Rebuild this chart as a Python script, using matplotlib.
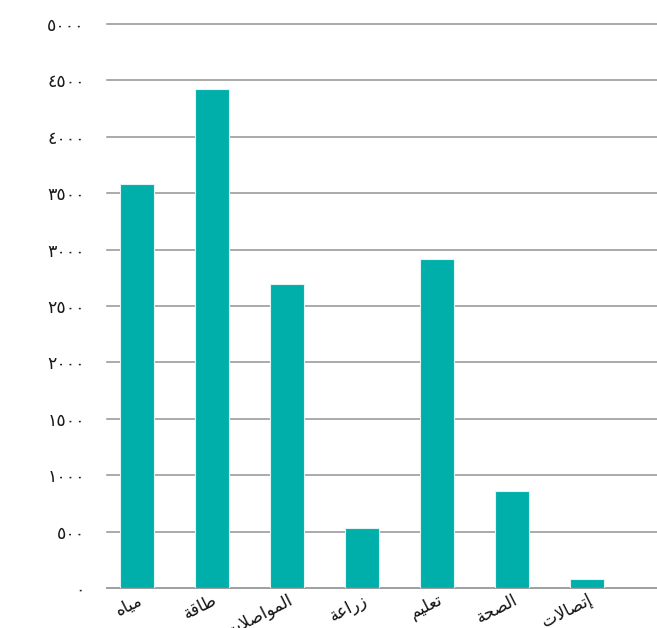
import matplotlib
matplotlib.use("Agg")
import matplotlib.pyplot as plt

# ---- data ----
categories = ["مياه", "طاقة", "المواصلات", "زراعة", "تعليم", "الصحة", "إتصالات"]
values = [3580, 4420, 2695, 530, 2915, 860, 80]
yticks = [0, 500, 1000, 1500, 2000, 2500, 3000, 3500, 4000, 4500, 5000]

# ---- minimal Arabic shaping (matplotlib has no complex text layout) ----
FORMS = {  # isolated, final, initial, medial
    'ا': ('\uFE8D', '\uFE8E', None, None),
    'إ': ('\uFE87', '\uFE88', None, None),
    'ب': ('\uFE8F', '\uFE90', '\uFE91', '\uFE92'),
    'ة': ('\uFE93', '\uFE94', None, None),
    'ت': ('\uFE95', '\uFE96', '\uFE97', '\uFE98'),
    'ح': ('\uFEA1', '\uFEA2', '\uFEA3', '\uFEA4'),
    'ر': ('\uFEAD', '\uFEAE', None, None),
    'ز': ('\uFEAF', '\uFEB0', None, None),
    'ص': ('\uFEB9', '\uFEBA', '\uFEBB', '\uFEBC'),
    'ط': ('\uFEC1', '\uFEC2', '\uFEC3', '\uFEC4'),
    'ع': ('\uFEC9', '\uFECA', '\uFECB', '\uFECC'),
    'ق': ('\uFED5', '\uFED6', '\uFED7', '\uFED8'),
    'ل': ('\uFEDD', '\uFEDE', '\uFEDF', '\uFEE0'),
    'م': ('\uFEE1', '\uFEE2', '\uFEE3', '\uFEE4'),
    'ه': ('\uFEE9', '\uFEEA', '\uFEEB', '\uFEEC'),
    'و': ('\uFEED', '\uFEEE', None, None),
    'ي': ('\uFEF1', '\uFEF2', '\uFEF3', '\uFEF4'),
}
LAM_ALEF = {'ا': ('\uFEFB', '\uFEFC'), 'إ': ('\uFEF9', '\uFEFA')}


def dual(c):
    return c in FORMS and FORMS[c][2] is not None


def shape(word):
    toks = []
    i = 0
    while i < len(word):
        c = word[i]
        if c == 'ل' and i + 1 < len(word) and word[i + 1] in LAM_ALEF:
            toks.append(('LA', word[i + 1]))
            i += 2
        else:
            toks.append((c, None))
            i += 1
    out = []
    for k, (c, extra) in enumerate(toks):
        prev = toks[k - 1] if k > 0 else None
        nxt = toks[k + 1] if k + 1 < len(toks) else None
        prev_joins = prev is not None and prev[0] != 'LA' and dual(prev[0])
        if c == 'LA':
            out.append(LAM_ALEF[extra][1 if prev_joins else 0])
            continue
        if c not in FORMS:
            out.append(c)
            continue
        next_joins = dual(c) and nxt is not None and (nxt[0] == 'LA' or nxt[0] in FORMS)
        iso, fin, ini, med = FORMS[c]
        if prev_joins and next_joins:
            out.append(med)
        elif prev_joins:
            out.append(fin)
        elif next_joins:
            out.append(ini)
        else:
            out.append(iso)
    return ''.join(reversed(out))


ARABIC_DIGITS = str.maketrans('0123456789', '٠١٢٣٤٥٦٧٨٩')

plt.rcParams['font.family'] = ['DejaVu Sans']

fig = plt.figure(figsize=(6.57, 6.28), dpi=100)
ax = fig.add_axes([107 / 657, 40 / 628, 1 - 107 / 657, 564 / 628])

x = list(range(len(categories)))
ax.bar(x, values, width=0.45, color='#00AFAA', edgecolor='#dff4f3',
       linewidth=0.8, zorder=3)

ax.set_xlim(-0.4, 6.933)
ax.set_ylim(0, 5000)
ax.set_yticks(yticks)
ax.set_yticklabels([str(v).translate(ARABIC_DIGITS) for v in yticks],
                   fontsize=12.5, color='#1a1a1a')
ax.set_xticks(x)
ax.set_xticklabels([shape(c) for c in categories], rotation=27, ha='right',
                   rotation_mode='anchor', fontsize=12, color='#111111')

ax.yaxis.grid(True, color='#939393', linewidth=1.1, zorder=0)
ax.set_axisbelow(True)
for ln in ax.get_ygridlines():
    ln.set_clip_on(False)
for s in ['top', 'right', 'left']:
    ax.spines[s].set_visible(False)
ax.spines['bottom'].set_color('#a0a0a0')
ax.spines['bottom'].set_linewidth(1.3)
ax.tick_params(axis='y', length=0, pad=16)
ax.tick_params(axis='x', length=0, pad=2)

fig.savefig('out.png', dpi=100, facecolor='white')
